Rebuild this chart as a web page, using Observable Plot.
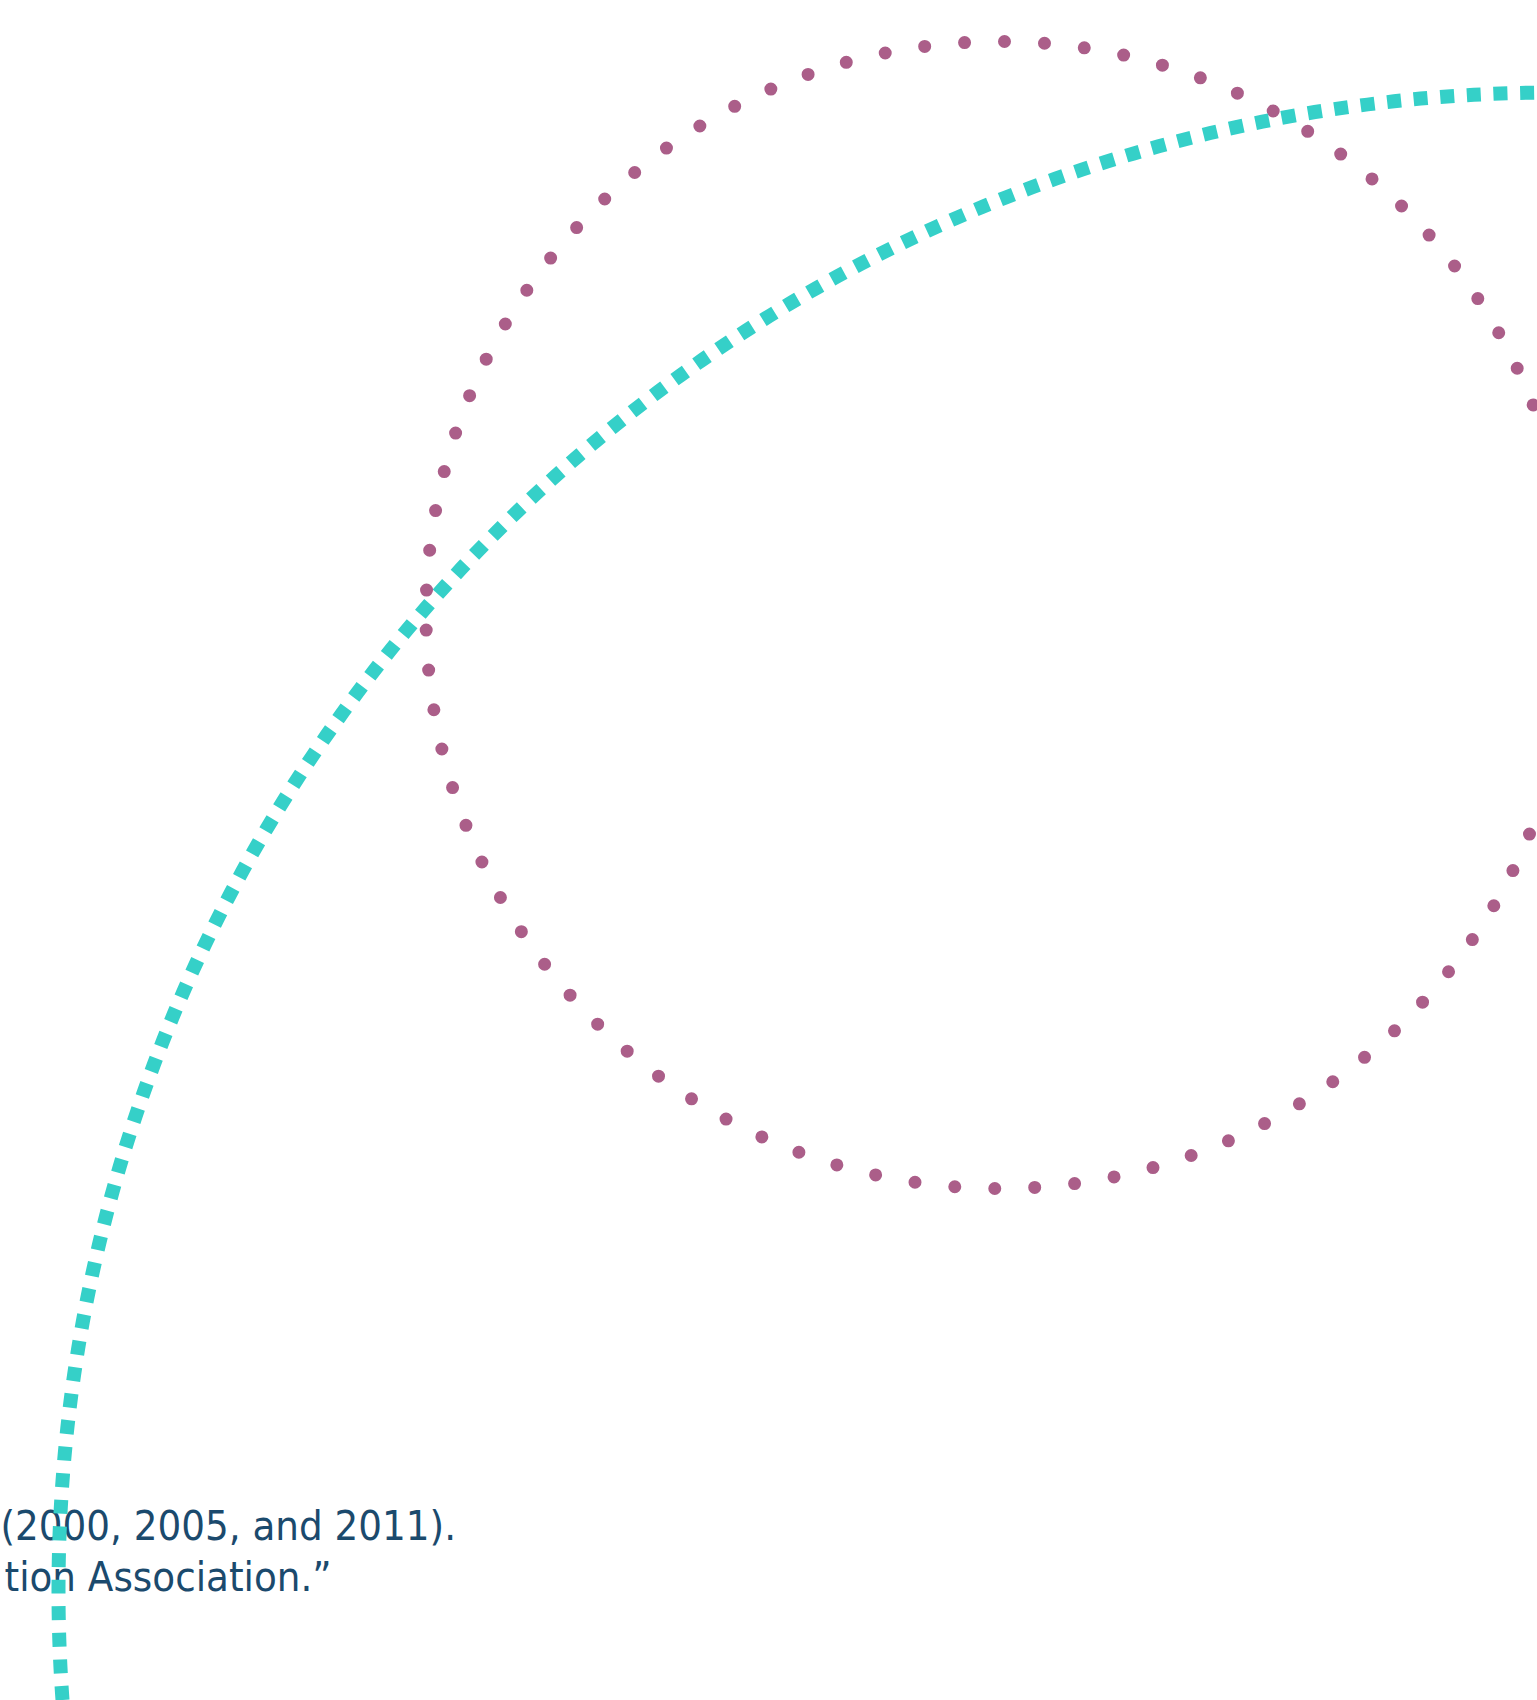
<!DOCTYPE html>
<html>
<head>
<meta charset="utf-8">
<script src="https://cdn.jsdelivr.net/npm/d3@7"></script>
<script src="https://cdn.jsdelivr.net/npm/@observablehq/plot@0.6"></script>
<style>
  html, body { margin: 0; padding: 0; background: #ffffff; overflow: hidden; }
  #chart svg { display: block; }
  #chart g[aria-label="text"] text { font-stretch: condensed; }
</style>
</head>
<body>
<div id="chart"></div>
<script>
// ---- data (chart units = pixels of the 1537 x 1700 frame) ----
const ringNames   = ["teal ring", "magenta ring"];
const ringCenterX = [1556, 999];
const ringCenterY = [1590, 614.5];
const ringRadius  = [1498, 573.5];

const captionLines = ["(2000, 2005, and 2011).", "tion Association.\u201D"];
const captionX     = [0, 4];
const captionY     = [1539, 1590];

// ---- tables built from the arrays ----
const rings = ringNames.map((name, i) => ({
  name, cx: ringCenterX[i], cy: ringCenterY[i], r: ringRadius[i]
}));
const caption = captionLines.map((text, i) => ({ text, x: captionX[i], y: captionY[i] }));

const W = 1537, H = 1700;

const chart = Plot.plot({
  width: W,
  height: H,
  margin: 0,
  x: { domain: [0, W], range: [0, W], axis: null },
  y: { domain: [0, H], range: [0, H], axis: null },
  r: { type: "identity" },
  style: { background: "#ffffff" },
  marks: [
    Plot.text(caption, {
      x: "x", y: "y", text: "text",
      textAnchor: "start", lineAnchor: "bottom",
      fontFamily: "DejaVu Sans Condensed, DejaVu Sans, sans-serif",
      fontSize: 41.5,
      fill: "#1b4a6d"
    }),
    Plot.dot(rings.filter(d => d.name === "magenta ring"), {
      x: "cx", y: "cy", r: "r",
      fill: "none", stroke: "#ab5e89",
      strokeWidth: 13, strokeLinecap: "round",
      strokeDasharray: "0 40.04", strokeDashoffset: 15.4
    }),
    Plot.dot(rings.filter(d => d.name === "teal ring"), {
      x: "cx", y: "cy", r: "r",
      fill: "none", stroke: "#35d0c8",
      strokeWidth: 14, strokeLinecap: "butt",
      strokeDasharray: "14 12.66", strokeDashoffset: 16.3
    })
  ]
});

document.getElementById("chart").appendChild(chart);
</script>
</body>
</html>
